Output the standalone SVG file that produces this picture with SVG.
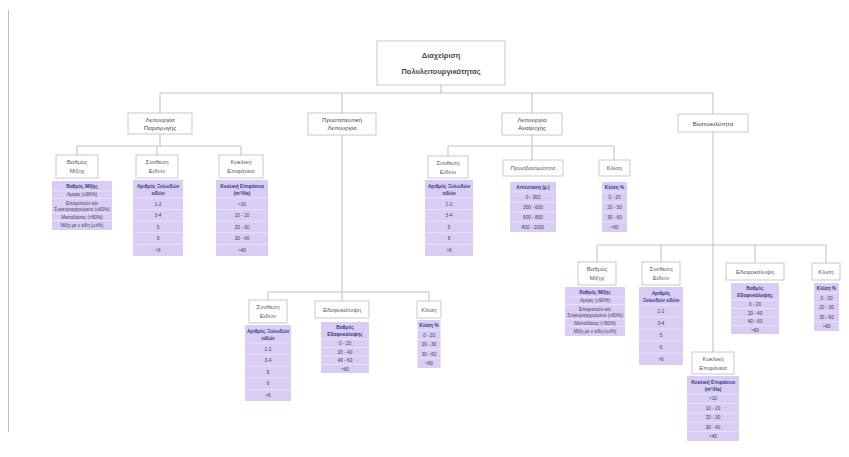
<svg xmlns="http://www.w3.org/2000/svg" width="849" height="457" viewBox="0 0 849 457">
<style>
text{font-family:"Liberation Sans","DejaVu Sans",sans-serif;text-anchor:middle}
.bx{fill:#fff;stroke:#c4c4c4;stroke-width:0.9}
.r0{font-size:7.5px;font-weight:bold;fill:#4a4a4a}
.l1{font-size:6.2px;fill:#444}
.l2{font-size:6px;fill:#5a5a5a}
.tb{fill:#d9cdf3}
.sp{stroke:#eee9fa;stroke-width:0.8}
.th{font-size:4.8px;font-weight:bold;fill:#333a85}
.td{font-size:4.7px;fill:#3e3e55}
.cn{fill:none;stroke:#c4c4c4;stroke-width:1.1}
</style>
<rect width="849" height="457" fill="#fff"/>
<line x1="8.5" y1="10" x2="8.5" y2="432" stroke="#bdbdbd" stroke-width="1"/>

<g id="connectors">
<path class="cn" d="M441,85V93M160,93H713M160,93V113M342,93V113M532,93V113M713,93V114"/>
<path class="cn" d="M160,134V146M77,146H241M77,146V155M157,146V155M241,146V155"/>
<path class="cn" d="M532,135V146M448,146H614M448,146V156M532,146V160M614,146V160"/>
<path class="cn" d="M342,135V292M268,292H429M268,292V300M342,292V301M429,292V301"/>
<path class="cn" d="M713,132V352M597,245H826M597,245V262M661,245V262M755,245V263M826,245V263"/>
</g>

<g id="root">
<rect class="bx" x="377" y="41" width="128" height="44"/>
<text class="r0" x="441" y="58">Διαχείριση</text>
<text class="r0" x="441" y="74">Πολυλειτουργικότητας</text>
</g>

<g id="paragogi">
<rect class="bx" x="128" y="113" width="64" height="21"/>
<text class="l1" x="160" y="121.5">Λειτουργία</text>
<text class="l1" x="160" y="130">Παραγωγής</text>
</g>
<g id="prostateftiki">
<rect class="bx" x="308" y="113" width="68" height="22"/>
<text class="l1" x="342" y="121.5">Προστατευτική</text>
<text class="l1" x="342" y="130">Λειτουργία</text>
</g>
<g id="anapsyxi">
<rect class="bx" x="502" y="113" width="60" height="22"/>
<text class="l1" x="532" y="121.5">Λειτουργία</text>
<text class="l1" x="532" y="130">Αναψυχής</text>
</g>
<g id="viopoikilotita">
<rect class="bx" x="678" y="114" width="70" height="18"/>
<text class="l1" x="713" y="125.5">Βιοποικιλότητα</text>
</g>

<!-- Production children -->
<g id="p-mixi">
<rect class="bx" x="56" y="155" width="42" height="23"/>
<text class="l2" x="77" y="164">Βαθμός</text>
<text class="l2" x="77" y="173">Μίξης</text>
<g transform="translate(52,181)">
<rect class="tb" width="60" height="49"/>
<path class="sp" d="M0,10H60M0,17.5H60M0,32H60M0,39.5H60"/>
<text class="th" x="30" y="7">Βαθμός Μίξης</text>
<text class="td" x="30" y="15">Αμιγές (≥90%)</text>
<text class="td" x="30" y="23.5">Επικρατούν και</text>
<text class="td" x="30" y="30">Συγκυριαρχούμενο (≥60%)</text>
<text class="td" x="30" y="37.5">Μικτοδάσος (&lt;60%)</text>
<text class="td" x="30" y="45.5">Μίξη με x είδη (≤x%)</text>
</g>
</g>
<g id="p-synthesi">
<rect class="bx" x="136" y="155" width="42" height="23"/>
<text class="l2" x="157" y="164">Σύνθεση</text>
<text class="l2" x="157" y="173">Ειδών</text>
<g transform="translate(133,180)">
<rect class="tb" width="50" height="76"/>
<path class="sp" d="M0,18H50M0,29.6H50M0,41.2H50M0,52.8H50M0,64.4H50"/>
<text class="th" x="25" y="7.5">Αριθμός Ξυλωδών</text>
<text class="th" x="25" y="14.5">ειδών</text>
<text class="td" x="25" y="25.6">1-2</text>
<text class="td" x="25" y="37.2">3-4</text>
<text class="td" x="25" y="48.8">5</text>
<text class="td" x="25" y="60.4">6</text>
<text class="td" x="25" y="72">&gt;6</text>
</g>
</g>
<g id="p-kykliki">
<rect class="bx" x="219" y="155" width="44" height="23"/>
<text class="l2" x="241" y="164">Κυκλική</text>
<text class="l2" x="241" y="173">Επιφάνεια</text>
<g transform="translate(216,180)">
<rect class="tb" width="52" height="76"/>
<path class="sp" d="M0,18H52M0,29.6H52M0,41.2H52M0,52.8H52M0,64.4H52"/>
<text class="th" x="26" y="7.5">Κυκλική Επιφάνεια</text>
<text class="th" x="26" y="14.5">(m²/Ha)</text>
<text class="td" x="26" y="25.6">&lt;10</text>
<text class="td" x="26" y="37.2">10 - 20</text>
<text class="td" x="26" y="48.8">20 - 30</text>
<text class="td" x="26" y="60.4">30 - 40</text>
<text class="td" x="26" y="72">&gt;40</text>
</g>
</g>

<!-- Recreation children -->
<g id="a-synthesi">
<rect class="bx" x="428" y="156" width="40" height="22"/>
<text class="l2" x="448" y="165">Σύνθεση</text>
<text class="l2" x="448" y="174">Ειδών</text>
<g transform="translate(425,180)">
<rect class="tb" width="48" height="76"/>
<path class="sp" d="M0,18H48M0,29.6H48M0,41.2H48M0,52.8H48M0,64.4H48"/>
<text class="th" x="24" y="7.5">Αριθμός Ξυλωδών</text>
<text class="th" x="24" y="14.5">ειδών</text>
<text class="td" x="24" y="25.6">1-2</text>
<text class="td" x="24" y="37.2">3-4</text>
<text class="td" x="24" y="48.8">5</text>
<text class="td" x="24" y="60.4">6</text>
<text class="td" x="24" y="72">&gt;6</text>
</g>
</g>
<g id="a-prosvasimotita">
<rect class="bx" x="503" y="160" width="60" height="16"/>
<text class="l2" x="533" y="170">Προσβασιμότητα</text>
<g transform="translate(510,182)">
<rect class="tb" width="46" height="50"/>
<path class="sp" d="M0,10H46M0,20H46M0,30H46M0,40H46"/>
<text class="th" x="23" y="6.8">Απόσταση (μ.)</text>
<text class="td" x="23" y="16.8">0 - 300</text>
<text class="td" x="23" y="26.8">300 - 600</text>
<text class="td" x="23" y="36.8">600 - 800</text>
<text class="td" x="23" y="46.8">800 - 1000</text>
</g>
</g>
<g id="a-klisi">
<rect class="bx" x="599" y="160" width="31" height="16"/>
<text class="l2" x="614.5" y="170">Κλίση</text>
<g transform="translate(602,182)">
<rect class="tb" width="25" height="50"/>
<path class="sp" d="M0,10H25M0,20H25M0,30H25M0,40H25"/>
<text class="th" x="12.5" y="6.8">Κλίση %</text>
<text class="td" x="12.5" y="16.8">0 - 20</text>
<text class="td" x="12.5" y="26.8">20 - 30</text>
<text class="td" x="12.5" y="36.8">30 - 60</text>
<text class="td" x="12.5" y="46.8">&gt;60</text>
</g>
</g>

<!-- Protective children -->
<g id="pr-synthesi">
<rect class="bx" x="249" y="300" width="38" height="23"/>
<text class="l2" x="268" y="309">Σύνθεση</text>
<text class="l2" x="268" y="318">Ειδών</text>
<g transform="translate(245,325)">
<rect class="tb" width="46" height="76"/>
<path class="sp" d="M0,18H46M0,29.6H46M0,41.2H46M0,52.8H46M0,64.4H46"/>
<text class="th" x="23" y="7.5">Αριθμός Ξυλωδών</text>
<text class="th" x="23" y="14.5">ειδών</text>
<text class="td" x="23" y="25.6">1-2</text>
<text class="td" x="23" y="37.2">3-4</text>
<text class="td" x="23" y="48.8">5</text>
<text class="td" x="23" y="60.4">6</text>
<text class="td" x="23" y="72">&gt;6</text>
</g>
</g>
<g id="pr-edafokalypsi">
<rect class="bx" x="315" y="301" width="54" height="17"/>
<text class="l2" x="342" y="311.5">Εδαφοκάλυψη</text>
<g transform="translate(321,322)">
<rect class="tb" width="48" height="51"/>
<path class="sp" d="M0,17H48M0,25.5H48M0,34H48M0,42.5H48"/>
<text class="th" x="24" y="7">Βαθμός</text>
<text class="th" x="24" y="13.5">Εδαφοκάλυψης</text>
<text class="td" x="24" y="23">0 - 20</text>
<text class="td" x="24" y="31.5">20 - 40</text>
<text class="td" x="24" y="40">40 - 60</text>
<text class="td" x="24" y="48.5">&gt;60</text>
</g>
</g>
<g id="pr-klisi">
<rect class="bx" x="417" y="301" width="24" height="17"/>
<text class="l2" x="429" y="311.5">Κλίση</text>
<g transform="translate(417.5,320)">
<rect class="tb" width="23" height="48"/>
<path class="sp" d="M0,10H23M0,19.5H23M0,29H23M0,38.5H23"/>
<text class="th" x="11.5" y="6.8">Κλίση %</text>
<text class="td" x="11.5" y="16.5">0 - 20</text>
<text class="td" x="11.5" y="26">20 - 30</text>
<text class="td" x="11.5" y="35.5">30 - 60</text>
<text class="td" x="11.5" y="45">&gt;60</text>
</g>
</g>

<!-- Biodiversity children -->
<g id="b-mixi">
<rect class="bx" x="578" y="262" width="38" height="23"/>
<text class="l2" x="597" y="271">Βαθμός</text>
<text class="l2" x="597" y="280">Μίξης</text>
<g transform="translate(565,287)">
<rect class="tb" width="60" height="49"/>
<path class="sp" d="M0,10H60M0,17.5H60M0,32H60M0,39.5H60"/>
<text class="th" x="30" y="7">Βαθμός Μίξης</text>
<text class="td" x="30" y="15">Αμιγές (≥90%)</text>
<text class="td" x="30" y="23.5">Επικρατούν και</text>
<text class="td" x="30" y="30">Συγκυριαρχούμενο (≥60%)</text>
<text class="td" x="30" y="37.5">Μικτοδάσος (&lt;60%)</text>
<text class="td" x="30" y="45.5">Μίξη με x είδη (≤x%)</text>
</g>
</g>
<g id="b-synthesi">
<rect class="bx" x="642" y="262" width="38" height="23"/>
<text class="l2" x="661" y="271">Σύνθεση</text>
<text class="l2" x="661" y="280">Ειδών</text>
<g transform="translate(639,287)">
<rect class="tb" width="44" height="78"/>
<path class="sp" d="M0,18H44M0,30H44M0,42H44M0,54H44M0,66H44"/>
<text class="th" x="22" y="7.5">Αριθμός</text>
<text class="th" x="22" y="14.5">Ξυλωδών ειδών</text>
<text class="td" x="22" y="26">1-2</text>
<text class="td" x="22" y="38">3-4</text>
<text class="td" x="22" y="50">5</text>
<text class="td" x="22" y="62">6</text>
<text class="td" x="22" y="74">&gt;6</text>
</g>
</g>
<g id="b-edafokalypsi">
<rect class="bx" x="726" y="263" width="58" height="17"/>
<text class="l2" x="755" y="273.5">Εδαφοκάλυψη</text>
<g transform="translate(731,283)">
<rect class="tb" width="48" height="51"/>
<path class="sp" d="M0,17H48M0,25.5H48M0,34H48M0,42.5H48"/>
<text class="th" x="24" y="7">Βαθμός</text>
<text class="th" x="24" y="13.5">Εδαφοκάλυψης</text>
<text class="td" x="24" y="23">0 - 20</text>
<text class="td" x="24" y="31.5">20 - 40</text>
<text class="td" x="24" y="40">40 - 60</text>
<text class="td" x="24" y="48.5">&gt;60</text>
</g>
</g>
<g id="b-klisi">
<rect class="bx" x="812" y="263" width="28" height="17"/>
<text class="l2" x="826" y="273.5">Κλίση</text>
<g transform="translate(814,283)">
<rect class="tb" width="25" height="48"/>
<path class="sp" d="M0,10H25M0,19.5H25M0,29H25M0,38.5H25"/>
<text class="th" x="12.5" y="6.8">Κλίση %</text>
<text class="td" x="12.5" y="16.5">0 - 20</text>
<text class="td" x="12.5" y="26">20 - 30</text>
<text class="td" x="12.5" y="35.5">30 - 60</text>
<text class="td" x="12.5" y="45">&gt;60</text>
</g>
</g>
<g id="b-kykliki">
<rect class="bx" x="692" y="352" width="42" height="22"/>
<text class="l2" x="713" y="361">Κυκλική</text>
<text class="l2" x="713" y="370">Επιφάνεια</text>
<g transform="translate(687,376)">
<rect class="tb" width="52" height="65"/>
<path class="sp" d="M0,18H52M0,27.4H52M0,36.8H52M0,46.2H52M0,55.6H52"/>
<text class="th" x="26" y="7.5">Κυκλική Επιφάνεια</text>
<text class="th" x="26" y="14.5">(m²/Ha)</text>
<text class="td" x="26" y="24.4">&lt;10</text>
<text class="td" x="26" y="33.8">10 - 20</text>
<text class="td" x="26" y="43.2">20 - 30</text>
<text class="td" x="26" y="52.6">30 - 40</text>
<text class="td" x="26" y="62">&gt;40</text>
</g>
</g>
</svg>
